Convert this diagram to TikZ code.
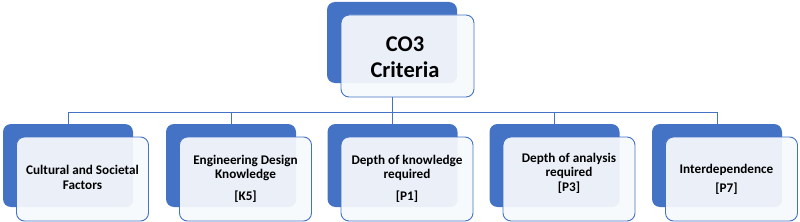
\documentclass[tikz,border=0pt]{standalone}
\usepackage{fontspec}
\setmainfont{Carlito}
\definecolor{offblue}{RGB}{68,114,196}
\definecolor{paleblue}{RGB}{247,250,253}
\definecolor{ovlblue}{RGB}{234,239,248}
\begin{document}
\begin{tikzpicture}[x=1pt,y=-1pt,
  backbox/.style={fill=offblue,rounded corners=8pt,minimum width=130pt,minimum height=83pt,inner sep=0pt},
  frontbox/.style={fill=paleblue,draw=offblue,line width=0.9pt,rounded corners=8pt,minimum width=132pt,minimum height=84pt,inner sep=0pt,
    path picture={\fill[ovlblue,rounded corners=8pt] (#1.south west) rectangle (#1.north east);}},
  lbl/.style={font=\bfseries\fontsize{13.2}{14.5}\selectfont,align=center,text=black,inner sep=0pt},
  conn/.style={draw=offblue,line width=0.9pt}]
\useasboundingbox (0,0) rectangle (800,222);
% top
\node[backbox,minimum height=81pt] (topback) at (392,42.5) {};
\node[frontbox=topback,minimum width=133pt,minimum height=82pt] (topfront) at (407.5,56) {};
\node[lbl,font=\bfseries\fontsize{22.5}{26}\selectfont] (toptxt) at (405,57) {CO3\\Criteria};
% bottom
\foreach \i/\cx in {1/68,2/231,3/392.5,4/554.5,5/717}{
  \node[backbox] (b\i) at (\cx,165.5) {};
  \node[frontbox=b\i] (f\i) at (\cx+14.5,179) {};
}
\node[lbl] (t1) at ([yshift=1.5pt]f1.center) {Cultural and Societal\\Factors};
\node[lbl] (t2) at ([yshift=0.5pt]f2.center) {Engineering Design\\Knowledge\\[7pt][K5]};
\node[lbl] (t3) at ([yshift=0.5pt]f3.center) {Depth of knowledge\\required\\[7pt][P1]};
\node[lbl] (t4) at ([yshift=6pt]f4.center) {Depth of analysis\\required\\[0pt][P3]};
\node[lbl,text width=120pt] (t5) at ([xshift=-5pt,yshift=-0.5pt]f5.center) {Interdependence\\[5pt][P7]};
% connectors
\coordinate (bus) at (392,112);
\foreach \i in {1,...,5}{
  \draw[conn] (topback.center |- topfront.south) -- (topback.center |- bus) -| (b\i.north);
}
\end{tikzpicture}
\end{document}
